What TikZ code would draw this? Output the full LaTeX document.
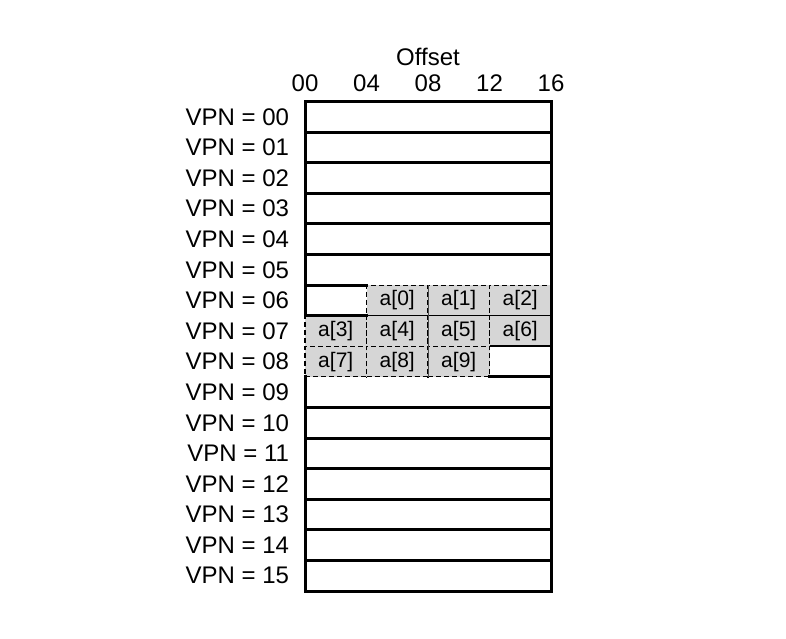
\documentclass[tikz,border=0pt]{standalone}
\usepackage{fontspec}
\setmainfont{Liberation Sans}
\definecolor{cellgray}{RGB}{214,214,214}
\begin{document}
\begin{tikzpicture}[x=1pt,y=-1pt,
  every node/.style={outer sep=0pt},
  rowbox/.style={draw=black,line width=3pt,minimum width=246pt,minimum height=30.6pt,inner sep=0pt,anchor=north west},
  rowplain/.style={minimum width=246pt,minimum height=30.6pt,inner sep=0pt,anchor=north west},
  cellg/.style={draw=black,dash pattern=on 5pt off 3pt,line width=1.1pt,fill=cellgray,minimum width=61.5pt,minimum height=30.6pt,inner sep=0pt,font=\fontsize{21}{25}\selectfont},
  cellw/.style={minimum width=61.5pt,minimum height=30.6pt,inner sep=0pt},
  thickline/.style={draw=black,line width=3pt,line cap=rect,line join=miter},
  vpn/.style={anchor=east,inner sep=0pt,font=\fontsize{24}{28}\selectfont},
  lab/.style={inner sep=0pt,font=\fontsize{24}{28}\selectfont}]
\useasboundingbox (0,0) rectangle (786,638);
% full rows
\foreach \i in {0,1,2,3,4,10,11,12,13,14,15}
  \node[rowbox] (r\i) at (305,{101.5+\i*30.6}) {};
\node[rowplain] (r5) at (305,{101.5+5*30.6}) {};
\node[rowplain] (r9) at (305,{101.5+9*30.6}) {};
% VPN labels
\foreach \i/\l in {0/00,1/01,2/02,3/03,4/04,5/05,6/06,7/07,8/08,9/09,10/10,11/11,12/12,13/13,14/14,15/15}
  \node[vpn] (v\i) at (289,{116.8+\i*30.6}) {VPN = \l};
% offset labels
\node[lab] (off) at (428,56.5) {Offset};
\node[lab] (o00) at (305,83.5) {00};
\node[lab] (o04) at (366.5,83.5) {04};
\node[lab] (o08) at (428,83.5) {08};
\node[lab] (o12) at (489.5,83.5) {12};
\node[lab] (o16) at (551,83.5) {16};
% cells
\node[cellw] (c60) at (335.75,300.4) {};
\node[cellg] (c61) at (397.25,300.4) {a[0]};
\node[cellg] (c62) at (458.75,300.4) {a[1]};
\node[cellg] (c63) at (520.25,300.4) {a[2]};
\node[cellg] (c70) at (335.75,331.0) {a[3]};
\node[cellg] (c71) at (397.25,331.0) {a[4]};
\node[cellg] (c72) at (458.75,331.0) {a[5]};
\node[cellg] (c73) at (520.25,331.0) {a[6]};
\node[cellg] (c80) at (335.75,361.6) {a[7]};
\node[cellg] (c81) at (397.25,361.6) {a[8]};
\node[cellg] (c82) at (458.75,361.6) {a[9]};
\node[cellw] (c83) at (520.25,361.6) {};
\draw[draw=black!70,line width=1pt] (c61.north east) -- (c81.south east);
% thick outlines around the partial rows
\draw[thickline] (c60.north east) -- (c60.north west) -- (c60.south west) -- (c60.south east);
\draw[thickline] (r5.south west) -- (r5.north west) -- (r5.north east) -- (r9.south east) -- (r9.south west) -- (r9.north west);
\draw[thickline] (c83.south west) -- (c83.south east);
\draw[draw=black,line width=2pt] (c83.north west) -- (c83.north east);
\end{tikzpicture}
\end{document}
